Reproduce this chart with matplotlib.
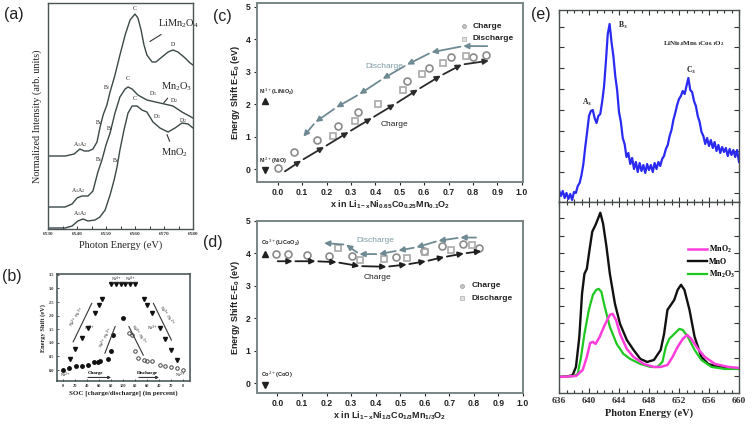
import matplotlib
matplotlib.use("Agg")
import matplotlib.pyplot as plt
from matplotlib.ticker import MultipleLocator, FixedLocator

SERIF = "Liberation Serif"
SANS = "Liberation Sans"

# ---------------- (a) Mn K-edge XANES ----------------
a_limn2o4_e = [6530, 6536, 6539, 6541, 6542.5, 6544, 6545.5, 6546.9, 6547.9, 6549.0, 6550.3, 6551.4,
               6553.1, 6554.8, 6556.6, 6558.3, 6560.0, 6561.0, 6562.1, 6563.1, 6564.1, 6565.9, 6567.2,
               6569.3, 6571.4, 6573.1, 6574.8, 6576.9, 6579.0, 6580.0]
a_limn2o4_i = [73, 73, 75, 80, 78, 78, 80, 87, 101, 114, 124, 137, 154, 174, 194, 209, 215, 211, 199,
               184, 174, 167, 167, 172, 177, 179, 177, 172, 166, 164]
a_mn2o3_e = [6530, 6535.9, 6538.3, 6540.0, 6541.7, 6543.8, 6545.5, 6547.2, 6548.6, 6550.0, 6551.4,
             6553.1, 6554.8, 6556.6, 6557.6, 6559.0, 6561.0, 6564.1, 6568.6, 6573.1, 6576.2, 6580.0]
a_mn2o3_i = [22, 22, 25, 31, 33, 33, 38, 57, 69, 84, 96, 116, 132, 140, 142, 140, 134, 129, 126, 123,
             117, 111]
a_mno2_e = [6530, 6535.9, 6538.3, 6540.3, 6542.1, 6543.8, 6546.2, 6547.9, 6549.7, 6551.4, 6552.8,
            6553.8, 6554.8, 6556.2, 6557.6, 6559.0, 6560.7, 6562.4, 6564.1, 6566.2, 6568.6, 6571.4,
            6573.8, 6576.2, 6578.3, 6580.0]
a_mno2_i = [1, 1, 3, 8, 10, 8, 9, 12, 19, 34, 49, 62, 79, 99, 116, 123, 123, 119, 117, 107, 101, 97,
            101, 106, 105, 101]
a_xticks = [6530, 6540, 6550, 6560, 6570, 6580]

# ---------------- (b) Energy shift vs SOC ----------------
b_xtick_pos = [0, 20, 40, 60, 80, 100, 120, 140, 160, 180, 200]
b_xtick_lab = ["0", "20", "40", "60", "80", "100", "80", "60", "40", "20", "0"]
b_ch_low_x = [0, 10, 21, 31, 41, 52, 58, 62, 75, 80, 83, 100]
b_ch_low_y = [0.0, 0.09, 0.15, 0.15, 0.18, 0.28, 0.31, 0.32, 0.39, 0.70, 1.30, 1.90]
b_ch_up_x = [11, 20, 31, 41, 53, 60, 65]
b_ch_up_y = [0.40, 0.77, 1.19, 1.53, 2.09, 2.39, 2.62]
b_top_x = [80, 88, 96, 104, 112, 120]
b_top_y = [3.15, 3.15, 3.17, 3.15, 3.15, 3.17]
b_dis_low_x = [110, 116, 121, 125, 135, 140, 149, 162, 171, 181, 191, 200]
b_dis_low_y = [1.35, 1.28, 0.70, 0.43, 0.37, 0.33, 0.33, 0.18, 0.16, 0.12, 0.06, 0.0]
b_dis_up_x = [135, 140, 149, 162, 171, 181, 191]
b_dis_up_y = [2.63, 2.39, 2.08, 1.53, 1.16, 0.73, 0.37]

# ---------------- (c) Ni shift ----------------
c_ch_x = [0.0, 0.068, 0.16, 0.248, 0.33, 0.529, 0.621, 0.710, 0.802, 0.852]
c_ch_y = [0.03, 0.52, 0.88, 1.34, 1.76, 2.70, 3.12, 3.44, 3.44, 3.53]
c_dis_x = [0.228, 0.317, 0.41, 0.512, 0.590, 0.679, 0.772]
c_dis_y = [1.03, 1.49, 2.0, 2.43, 2.93, 3.27, 3.48]
c_arr_ch_x = [0.02, 0.096, 0.19, 0.29, 0.385, 0.48, 0.574, 0.668, 0.754, 0.865]
c_arr_ch_y = [-0.12, 0.26, 0.68, 1.14, 1.57, 2.0, 2.45, 2.88, 3.22, 3.34]
c_arr_dis_x = [0.87, 0.76, 0.63, 0.53, 0.43, 0.335, 0.24, 0.155, 0.105]
c_arr_dis_y = [3.79, 3.79, 3.6, 3.22, 2.78, 2.31, 1.9, 1.45, 1.0]

# ---------------- (d) Co shift ----------------
d_ch_x = [-0.007, 0.045, 0.122, 0.211, 0.304, 0.484, 0.596, 0.672, 0.755, 0.82]
d_ch_y = [3.99, 3.99, 3.96, 3.93, 3.91, 3.89, 4.09, 4.23, 4.29, 4.18]
d_dis_x = [0.245, 0.338, 0.436, 0.529, 0.603, 0.705, 0.792]
d_dis_y = [4.16, 3.81, 3.83, 3.86, 4.03, 4.11, 4.27]
d_arr_ch_x = [-0.01, 0.062, 0.155, 0.241, 0.334, 0.444, 0.526, 0.604, 0.679, 0.759, 0.83]
d_arr_ch_y = [3.76, 3.76, 3.76, 3.73, 3.61, 3.59, 3.66, 3.76, 3.89, 4.0, 4.07]
d_arr_dis_x = [0.82, 0.745, 0.656, 0.566, 0.493, 0.414, 0.334, 0.28, 0.19]
d_arr_dis_y = [4.49, 4.49, 4.39, 4.19, 4.09, 3.98, 3.98, 4.27, 4.32]

# ---------------- (e) soft XAS ----------------
e_top_e = [636.0 + 0.25 * k for k in range(97)]
e_top_i = [12, 6, 11, 4, 9, 3, 8, 2, 10, 9, 16, 19, 27, 38, 55, 70, 86, 91, 92, 84, 79, 86, 88, 100,
           115, 140, 168, 178, 160, 146, 126, 112, 90, 80, 64, 58, 45, 49, 38, 44, 33, 40, 30, 39,
           31, 37, 29, 38, 32, 37, 30, 39, 33, 40, 36, 43, 46, 53, 57, 66, 72, 82, 89, 97, 103, 106,
           111, 108, 116, 124, 112, 110, 101, 96, 86, 80, 70, 66, 58, 64, 56, 62, 54, 60, 51, 57, 49,
           55, 50, 54, 46, 53, 47, 52, 45, 52, 40]
e_mno_e = [636.0, 637.13, 637.81, 638.26, 638.71, 639.07, 639.39, 639.71, 640.07, 640.43, 640.88,
           641.20, 641.51, 641.88, 642.33, 642.78, 643.46, 644.14, 645.04, 645.94, 646.85, 647.75,
           648.66, 649.56, 650.01, 650.46, 650.92, 651.37, 651.82, 652.27, 652.72, 653.40, 654.08,
           654.98, 655.89, 657.24, 658.60, 660.0]
e_mno_i = [16, 16.7, 17.7, 26, 56, 99, 119, 124, 143, 161, 168, 174, 180, 169, 146, 119, 89, 69, 53,
           43, 34, 31, 33, 43, 59, 83, 88, 93, 103, 108, 103, 83, 56, 36, 29, 26, 25, 24]
e_mn2o3_e = [636.0, 637.81, 638.49, 638.94, 639.39, 639.98, 640.52, 640.97, 641.29, 641.65, 642.10,
             642.78, 643.69, 644.59, 645.49, 646.85, 648.20, 649.11, 649.79, 650.24, 650.69, 651.37,
             652.05, 652.50, 653.18, 654.08, 654.98, 656.34, 658.15, 660.0]
e_mn2o3_i = [16, 16.7, 19, 36, 59, 83, 98, 103, 104, 101, 86, 66, 49, 39, 34, 29, 26, 26, 31, 46,
             54, 59, 64, 63, 56, 43, 33, 26, 24, 24]
e_mno2_e = [636.0, 638.26, 639.16, 639.71, 640.16, 640.52, 640.88, 641.42, 642.10, 642.78, 643.14,
            643.60, 644.14, 645.04, 645.94, 647.30, 648.66, 649.56, 650.46, 651.14, 651.82, 652.50,
            653.08, 653.63, 654.53, 655.44, 656.79, 658.60, 660.0]
e_mno2_i = [16, 17, 23, 36, 50, 51, 49, 56, 68, 78, 79, 73, 59, 44, 36, 29, 26, 26, 28, 36, 46, 54,
            58, 54, 44, 36, 29, 26, 25]
e_legend = ["MnO$\\mathregular{_2}$", "MnO", "Mn$\\mathregular{_2}$O$\\mathregular{_3}$"]

W, H = 753, 428
fig = plt.figure(figsize=(W / 100, H / 100), dpi=100)


def add_ax(l, r, t, b):
    return fig.add_axes([l / W, 1 - b / H, (r - l) / W, (b - t) / H])


def panel_label(x, y, s):
    fig.text(x / W, 1 - y / H, s, fontsize=11.5, family=SANS, ha="center", va="center", color="#222")


# ---------- (a) ----------
curve_col = "#3b4848"
axa = add_ax(48, 193, 3, 229)
axa.plot(a_limn2o4_e, a_limn2o4_i, color=curve_col, lw=1.0)
axa.plot(a_mn2o3_e, a_mn2o3_i, color=curve_col, lw=1.0)
axa.plot(a_mno2_e, a_mno2_i, color=curve_col, lw=1.0)
axa.set_xlim(6530, 6580)
axa.set_ylim(0, 226)
axa.set_yticks([])
axa.set_xticks(a_xticks)
axa.xaxis.set_minor_locator(MultipleLocator(5))
axa.tick_params(axis="x", which="both", direction="in", length=2.5, width=0.7, pad=2,
                labelsize=3.8, colors="#333")
for lab in axa.get_xticklabels():
    lab.set_fontfamily(SERIF)
    lab.set_fontweight("bold")
for s in axa.spines.values():
    s.set_color("#4a5555")
    s.set_linewidth(1.0)
axa.set_xlabel("Photon Energy (eV)", family=SERIF, fontsize=7.5, labelpad=3, color="#222")
axa.set_ylabel("Normalized Intensity (arb. units)", family=SERIF, fontsize=7.3, labelpad=4,
               color="#222")
fa = dict(family=SERIF, fontsize=4.2, color="#222", ha="center", va="center")
for (x, y, s) in [(6541, 84, "A$\\mathregular{_1}$A$\\mathregular{_2}$"), (6547.6, 106, "B$\\mathregular{_1}$"),
                  (6550.2, 141, "B$\\mathregular{_2}$"), (6560, 221, "C"), (6573.1, 184, "D"),
                  (6540.3, 38, "A$\\mathregular{_1}$A$\\mathregular{_2}$"), (6551.4, 100, "B$\\mathregular{_2}$"),
                  (6547.4, 69, "B$\\mathregular{_1}$"), (6557.6, 150, "C"),
                  (6566.3, 135, "D$\\mathregular{_1}$"), (6573.3, 128, "D$\\mathregular{_2}$"),
                  (6541.3, 15, "A$\\mathregular{_1}$A$\\mathregular{_2}$"), (6553.3, 68, "B$\\mathregular{_1}$"),
                  (6560, 130, "C"), (6567.5, 112, "D$\\mathregular{_1}$"), (6576.6, 108, "D$\\mathregular{_2}$")]:
    axa.text(x, y, s, **fa)
fl = dict(family=SERIF, fontsize=7.5, color="#222", ha="center", va="center")
axa.annotate("LiMn$\\mathregular{_2}$O$\\mathregular{_4}$", xy=(6564.3, 186), xytext=(6574.8, 205),
             arrowprops=dict(arrowstyle="-", color="#333", lw=0.8), **fl)
axa.annotate("Mn$\\mathregular{_2}$O$\\mathregular{_3}$", xy=(6569.3, 124), xytext=(6574.5, 142),
             arrowprops=dict(arrowstyle="-", color="#333", lw=0.8), **fl)
axa.annotate("MnO$\\mathregular{_2}$", xy=(6570.7, 97), xytext=(6573.5, 76),
             arrowprops=dict(arrowstyle="-", color="#333", lw=0.8), **fl)
panel_label(14, 15, "(a)")

# ---------- (b) ----------
axb = add_ax(57, 190, 274, 381)
axb.plot(b_ch_low_x, b_ch_low_y, "o", ms=2.5, color="#111")
axb.plot(b_ch_up_x, b_ch_up_y, "v", ms=2.9, color="#111")
axb.plot(b_top_x, b_top_y, "v", ms=2.9, color="#111")
axb.plot(b_dis_up_x, b_dis_up_y, "v", ms=2.9, color="#111")
axb.plot(b_dis_low_x, b_dis_low_y, "o", ms=2.5, mfc="none", mec="#444", mew=0.7)
axb.set_xlim(-10, 212)
axb.set_ylim(-0.4, 3.53)
axb.set_xticks(b_xtick_pos)
axb.set_xticklabels(b_xtick_lab)
axb.set_yticks([0.0, 0.5, 1.0, 1.5, 2.0, 2.5, 3.0, 3.5])
axb.tick_params(direction="in", length=1.5, width=0.6, pad=2, labelsize=3.2, colors="#333")
for lab in axb.get_xticklabels() + axb.get_yticklabels():
    lab.set_fontfamily(SERIF)
    lab.set_fontweight("bold")
for s in axb.spines.values():
    s.set_color("#3f4d4d")
    s.set_linewidth(1.1)
axb.set_xlabel("SOC [charge/discharge] (in percent)", family=SERIF, fontsize=5, weight="bold",
               labelpad=2, color="#222")
axb.set_ylabel("Energy Shift (eV)", family=SERIF, fontsize=4.6, weight="bold", labelpad=2,
               color="#222")
for (x0, y0, x1, y1) in [(17, 1.04, 48, 2.45), (70, 0.62, 87, 1.6), (110, 1.6, 134, 0.55),
                         (151, 2.45, 181, 1.1)]:
    axb.plot([x0, x1], [y0, y1], color="#333", lw=0.8)
fb = dict(family=SERIF, fontsize=3.2, color="#222", ha="center", va="center")
axb.text(24, 1.95, "Ni$^{2+}$-Ni$^{3+}$", rotation=58, **fb)
axb.text(72, 1.2, "Ni$^{2+}$-Ni$^{3+}$", rotation=62, **fb)
axb.text(126, 1.3, "Ni$^{4+}$-Ni$^{3+}$", rotation=-55, **fb)
axb.text(172, 2.0, "Ni$^{3+}$-Ni$^{2+}$", rotation=-55, **fb)
axb.text(45, 1.55, "Ni$^{3+}$", **fb)
axb.text(150, 1.55, "Ni$^{3+}$", **fb)
axb.text(90, 3.35, "Ni$^{4+}$", **fb)
axb.text(113, 3.35, "Ni$^{4+}$", **fb)
axb.plot([82, 122], [3.25, 3.25], color="#333", lw=0.6)
axb.text(5, -0.2, "Ni$^{2+}$", **fb)
axb.text(196, -0.2, "Ni$^{2+}$", **fb)
axb.text(55, -0.1, "Charge", family=SERIF, fontsize=3.6, weight="bold", ha="center", va="center")
axb.text(141, -0.1, "Discharge", family=SERIF, fontsize=3.6, weight="bold", ha="center", va="center")
axb.annotate("", xy=(85, -0.27), xytext=(37, -0.27),
             arrowprops=dict(arrowstyle="-|>", color="#333", lw=0.8, mutation_scale=4))
axb.annotate("", xy=(165, -0.27), xytext=(122, -0.27),
             arrowprops=dict(arrowstyle="-|>", color="#333", lw=0.8, mutation_scale=4))
panel_label(12, 277, "(b)")

# ---------- (c) & (d) ----------
CH_COL = "#2b2b2b"
DIS_COL = "#6f8a93"
DIS_TXT = "#7f9ba5"
CIRC = "#8a8a8a"
SQR = "#a9a9a9"


def arrows(ax, xs, ys, color):
    for i in range(1, len(xs)):
        ax.annotate("", xy=(xs[i], ys[i]), xytext=(xs[i - 1], ys[i - 1]),
                    arrowprops=dict(arrowstyle="-|>", color=color, lw=1.3, mutation_scale=8,
                                    shrinkA=2, shrinkB=0))


def style_cd(ax, xlabel, ylim, xlim):
    ax.set_xlim(*xlim)
    ax.set_ylim(*ylim)
    ax.set_xticks([0.0, 0.1, 0.2, 0.3, 0.4, 0.5, 0.6, 0.7, 0.8, 0.9, 1.0])
    ax.set_yticks([0, 1, 2, 3, 4, 5])
    ax.tick_params(direction="out", length=2.5, width=0.8, pad=2, labelsize=6.2, colors="#222")
    for lab in ax.get_xticklabels() + ax.get_yticklabels():
        lab.set_fontfamily(SANS)
        lab.set_fontweight("bold")
    for s in ax.spines.values():
        s.set_color("#7a8585")
        s.set_linewidth(1.4)
    ax.set_xlabel(xlabel, family=SANS, weight="bold", fontsize=6.5, labelpad=1, color="#222")
    ax.set_ylabel("Energy Shift E-E$\\mathregular{_0}$ (eV)", family=SANS, weight="bold",
                  fontsize=6.5, labelpad=3, color="#222")


axc = add_ax(257, 523, 3, 182)
arrows(axc, c_arr_ch_x, c_arr_ch_y, CH_COL)
arrows(axc, c_arr_dis_x, c_arr_dis_y, DIS_COL)
axc.plot(c_ch_x, c_ch_y, "o", ms=5, mfc="none", mec=CIRC, mew=1.2)
axc.plot(c_dis_x, c_dis_y, "s", ms=4.6, mfc="none", mec=SQR, mew=1.2)
axc.plot([-0.052], [2.09], "^", ms=4, color="#222")
axc.plot([-0.052], [-0.04], "v", ms=4, color="#222")
fr = dict(family=SANS, fontsize=4, weight="bold", color="#222", ha="left", va="center")
axc.text(-0.075, 2.37, "Ni$^{3+}$(LiNiO$\\mathregular{_2}$)", **fr)
axc.text(-0.075, 0.26, "Ni$^{2+}$(NiO)", **fr)
axc.text(0.436, 3.17, "Discharge", family=SANS, fontsize=6, color=DIS_TXT, ha="center", va="center")
axc.text(0.477, 1.37, "Charge", family=SANS, fontsize=6, color="#222", ha="center", va="center")
axc.plot([0.762], [4.40], "o", ms=2.8, mfc="#c8c8c8", mec="#a0a0a0", mew=0.6)
axc.plot([0.762], [4.02], "s", ms=2.6, mfc="#e0e0e0", mec="#b8b8b8", mew=0.6)
axc.text(0.80, 4.40, "Charge", family=SANS, fontsize=6, weight="bold", color="#222", va="center")
axc.text(0.80, 4.02, "Discharge", family=SANS, fontsize=6, weight="bold", color="#222", va="center")
style_cd(axc, "x in Li$\\mathregular{_{1-x}}$Ni$\\mathregular{_{0.65}}$Co$\\mathregular{_{0.25}}$"
              "Mn$\\mathregular{_{0.1}}$O$\\mathregular{_2}$", (-0.4, 5.12), (-0.085, 1.005))
panel_label(222, 17, "(c)")

axd = add_ax(257, 523, 221, 393)
arrows(axd, d_arr_ch_x, d_arr_ch_y, "#1e1e1e")
arrows(axd, d_arr_dis_x, d_arr_dis_y, DIS_COL)
axd.plot(d_ch_x, d_ch_y, "o", ms=5, mfc="none", mec=CIRC, mew=1.2)
axd.plot(d_dis_x, d_dis_y, "s", ms=4.6, mfc="none", mec=SQR, mew=1.2)
axd.plot([-0.05], [3.98], "^", ms=4, color="#222")
axd.plot([-0.05], [-0.05], "v", ms=4, color="#222")
axd.text(-0.066, 4.32, "Co$^{3+}$(LiCoO$\\mathregular{_2}$)", **fr)
axd.text(-0.066, 0.27, "Co$^{2+}$(CoO)", **fr)
axd.text(0.40, 4.39, "Discharge", family=SANS, fontsize=6, color=DIS_TXT, ha="center", va="center")
axd.text(0.407, 3.25, "Charge", family=SANS, fontsize=6, color="#222", ha="center", va="center")
axd.plot([0.752], [3.0], "o", ms=2.8, mfc="#c8c8c8", mec="#a0a0a0", mew=0.6)
axd.plot([0.752], [2.62], "s", ms=2.6, mfc="#e0e0e0", mec="#b8b8b8", mew=0.6)
axd.text(0.79, 3.0, "Charge", family=SANS, fontsize=6, weight="bold", color="#222", va="center")
axd.text(0.79, 2.62, "Discharge", family=SANS, fontsize=6, weight="bold", color="#222", va="center")
style_cd(axd, "x in Li$\\mathregular{_{1-x}}$Ni$\\mathregular{_{1/3}}$Co$\\mathregular{_{1/3}}$"
              "Mn$\\mathregular{_{1/3}}$O$\\mathregular{_2}$", (-0.3, 5.0), (-0.083, 0.982))
panel_label(213, 242, "(d)")

# ---------- (e) ----------
axe1 = add_ax(559, 739, 10, 202)
axe2 = add_ax(559, 739, 202, 393)
axe1.plot(e_top_e, e_top_i, color="#2a2af2", lw=1.6)
axe2.plot(e_mno_e, e_mno_i, color="#111111", lw=1.7, label=e_legend[1], solid_joinstyle="round")
axe2.plot(e_mn2o3_e, e_mn2o3_i, color="#1ec81e", lw=1.6, label=e_legend[2], solid_joinstyle="round")
axe2.plot(e_mno2_e, e_mno2_i, color="#ff3ddc", lw=1.8, label=e_legend[0], solid_joinstyle="round")
for ax in (axe1, axe2):
    ax.set_xlim(636, 660)
    ax.xaxis.set_major_locator(MultipleLocator(4))
    ax.xaxis.set_minor_locator(MultipleLocator(1))
    ax.tick_params(which="both", direction="in", top=True, right=True, width=0.8, colors="#333")
    ax.tick_params(which="major", length=3.5)
    ax.tick_params(which="minor", length=2)
    ax.set_yticklabels([])
    for s in ax.spines.values():
        s.set_color("#4a5050")
        s.set_linewidth(1.0)
axe1.set_ylim(0, 192)
axe1.yaxis.set_major_locator(FixedLocator([9 + 20.8 * k for k in range(9)]))
axe1.set_xticklabels([])
axe2.set_ylim(0, 190.7)
axe2.yaxis.set_major_locator(FixedLocator([17 + 17.5 * k for k in range(10)]))
axe2.tick_params(axis="x", which="major", labelsize=6.8, pad=3)
for lab in axe2.get_xticklabels():
    lab.set_fontfamily(SERIF)
    lab.set_fontweight("bold")
axe2.set_xlabel("Photon Energy (eV)", family=SERIF, weight="bold", fontsize=7.5, labelpad=2,
                color="#222")
fe = dict(family=SERIF, fontsize=5.5, weight="bold", color="#222", ha="center", va="center")
axe1.text(639.8, 100, "A$\\mathregular{_3}$", **fe)
axe1.text(644.5, 177, "B$\\mathregular{_3}$", **fe)
axe1.text(653.6, 132, "C$\\mathregular{_3}$", **fe)
axe1.text(653.9, 158, "LiNi$\\mathregular{_{0.8}}$Mn$\\mathregular{_{0.1}}$Co$\\mathregular{_{0.1}}$O$\\mathregular{_2}$",
          family=SERIF, fontsize=5, weight="bold", color="#222", ha="center", va="center")
h, l = axe2.get_legend_handles_labels()
leg = axe2.legend([h[2], h[0], h[1]], [l[2], l[0], l[1]], loc="upper right",
                  bbox_to_anchor=(1.02, 0.82), frameon=False, handlelength=2.3, handletextpad=0.3,
                  labelspacing=0.35, prop=dict(family=SERIF, weight="bold", size=5.8))
panel_label(541, 15, "(e)")

fig.savefig("out.png", dpi=100, facecolor="white")
